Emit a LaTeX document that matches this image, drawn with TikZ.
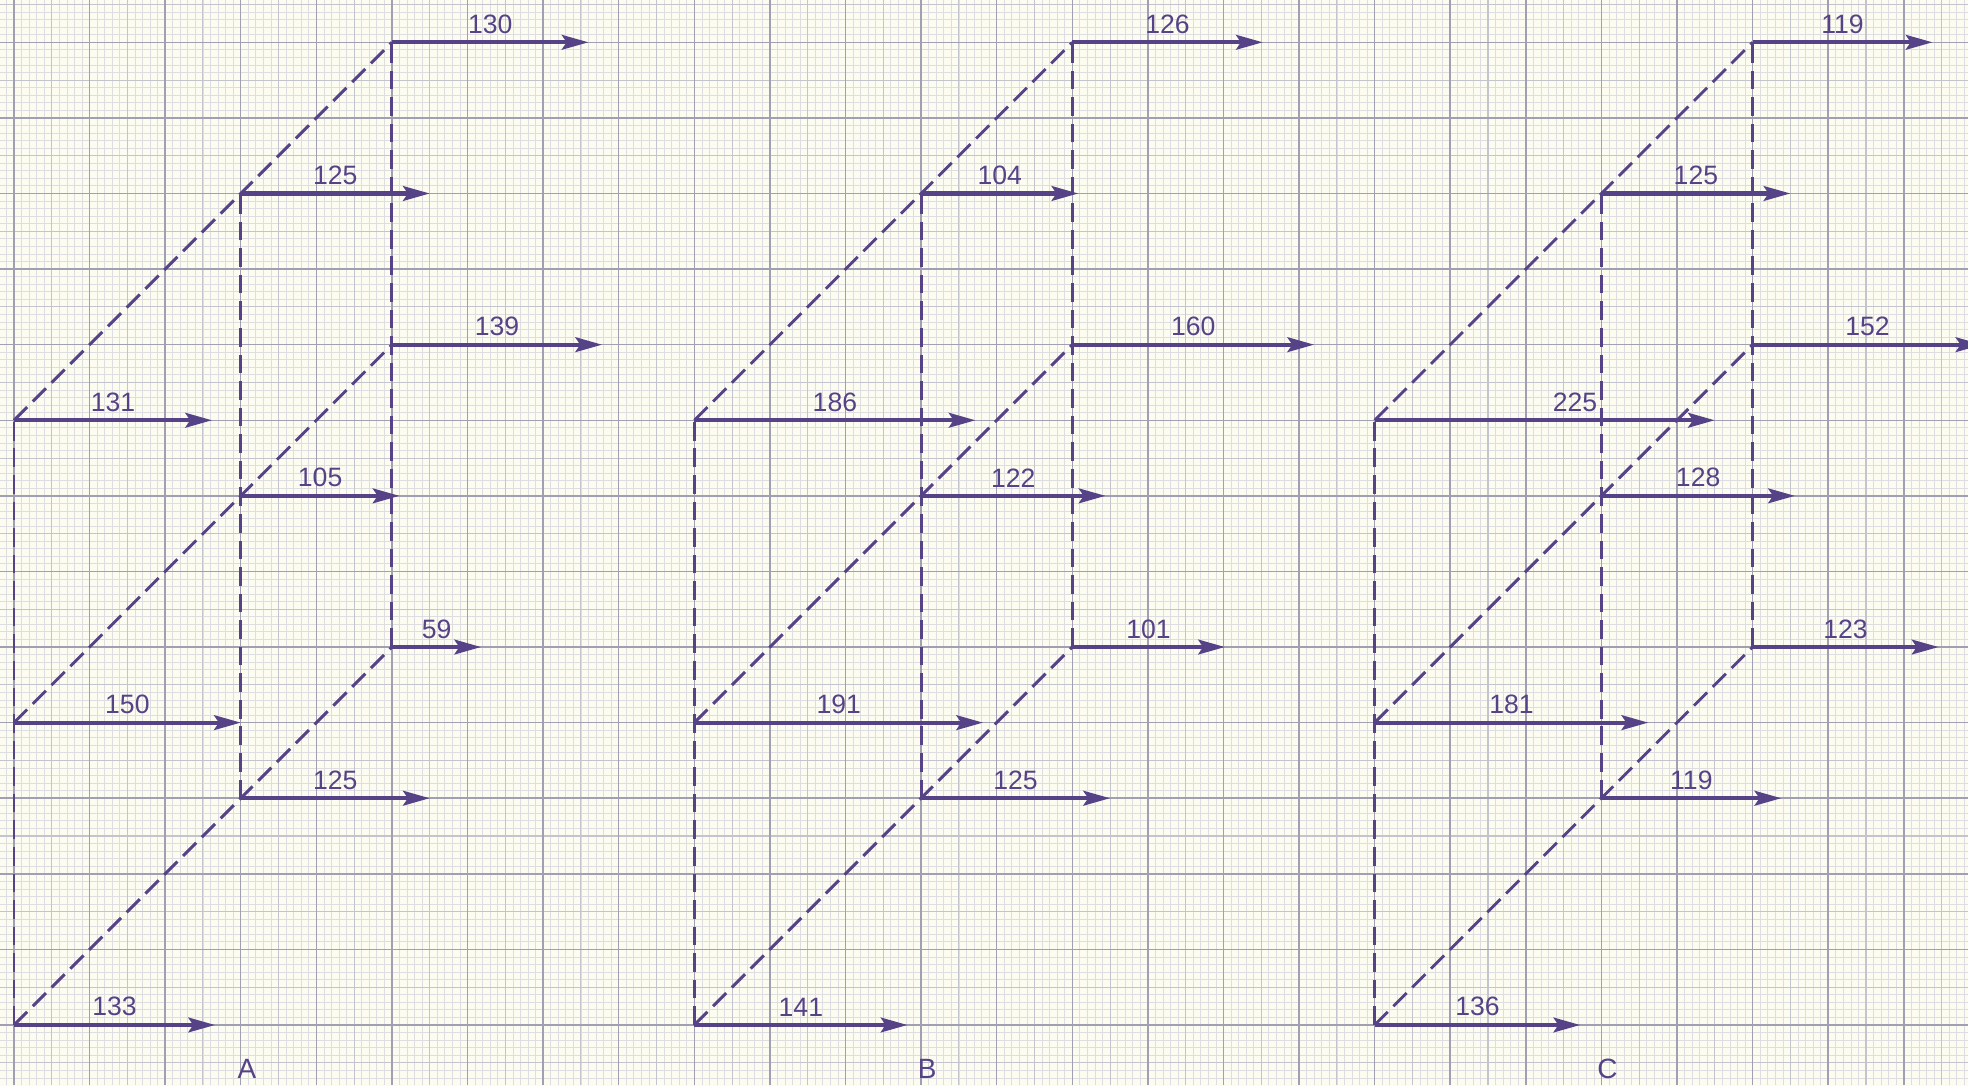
\documentclass[tikz,border=0pt]{standalone}
\usepackage{fontspec}
\setmainfont{Liberation Sans}
\usetikzlibrary{arrows.meta}

\definecolor{ink}{RGB}{86,66,134}
\definecolor{paperC}{RGB}{252,252,240}
\definecolor{paperY}{RGB}{248,234,140}
\definecolor{mmline}{RGB}{222,222,226}
\definecolor{hcline}{RGB}{196,196,206}
\definecolor{cmline}{RGB}{160,160,178}

\pgfdeclarehorizontalshading{paper}{100bp}{color(0bp)=(paperY); color(11bp)=(paperC); color(88bp)=(paperC); color(100bp)=(paperY)}

% vector from a point, length = value/50 cm
\newcommand{\flowvec}[3][0]{%
  \path (#2) ++({#3/50},0) coordinate (#2-tip);
  \draw[vec] (#2) -- (#2-tip) node[val, xshift=#1cm] {#3};}

\begin{document}
\begin{tikzpicture}[
    vec/.style={ink, line width=1.6pt, -{Stealth[length=10pt, width=5.5pt, inset=1.8pt]}},
    edge/.style={ink, line width=1.1pt, dash pattern=on 7pt off 3pt},
    val/.style={ink, font=\fontsize{10}{12}\selectfont, midway, above, inner sep=2.5pt},
    tag/.style={ink, font=\fontsize{10.5}{12}\selectfont}
]
    % graph paper
    \useasboundingbox (-0.185,-0.794) rectangle (25.85,13.56);
    \shade[shading=paper] (-0.185,-0.794) rectangle (25.85,13.56);
    \draw[mmline, line width=0.3pt, step=0.1] (-0.185,-0.794) grid (25.85,13.56);
    \draw[hcline, line width=0.4pt, step=0.5] (-0.185,-0.794) grid (25.85,13.56);
    \draw[cmline, line width=0.55pt, step=1] (-0.185,-0.794) grid (25.85,13.56);

    \foreach \lbl/\ox/\sh/\fa/\fb/\fc/\ma/\mb/\mc/\ba/\bb/\bc in {
        A/0/0/133/150/131/125/105/125/59/139/130,
        B/9/0/141/191/186/125/122/104/101/160/126,
        C/18/0.4/136/181/225/119/128/125/123/152/119}{
      \begin{scope}[xshift=\ox cm]
        \coordinate (\lbl-f0) at (0,0);
        \coordinate (\lbl-f1) at (0,4);
        \coordinate (\lbl-f2) at (0,8);
        \coordinate (\lbl-m0) at (3,3);
        \coordinate (\lbl-m1) at (3,7);
        \coordinate (\lbl-m2) at (3,11);
        \coordinate (\lbl-b0) at (5,5);
        \coordinate (\lbl-b1) at (5,9);
        \coordinate (\lbl-b2) at (5,13);
        \node[tag] (\lbl-tag) at (3.08,-0.58) {\lbl};
      \end{scope}
      % dashed frame
      \draw[edge] (\lbl-f0) -- (\lbl-f1) -- (\lbl-f2);
      \draw[edge] (\lbl-m0) -- (\lbl-m1) -- (\lbl-m2);
      \draw[edge] (\lbl-b0) -- (\lbl-b1) -- (\lbl-b2);
      \draw[edge] (\lbl-f0) -- (\lbl-m0) -- (\lbl-b0);
      \draw[edge] (\lbl-f1) -- (\lbl-m1) -- (\lbl-b1);
      \draw[edge] (\lbl-f2) -- (\lbl-m2) -- (\lbl-b2);
      % vectors
      \flowvec{\lbl-f0}{\fa}
      \flowvec{\lbl-f1}{\fb}
      \flowvec[\sh]{\lbl-f2}{\fc}
      \flowvec{\lbl-m0}{\ma}
      \flowvec{\lbl-m1}{\mb}
      \flowvec{\lbl-m2}{\mc}
      \flowvec{\lbl-b0}{\ba}
      \flowvec{\lbl-b1}{\bb}
      \flowvec{\lbl-b2}{\bc}
    }
\end{tikzpicture}
\end{document}
